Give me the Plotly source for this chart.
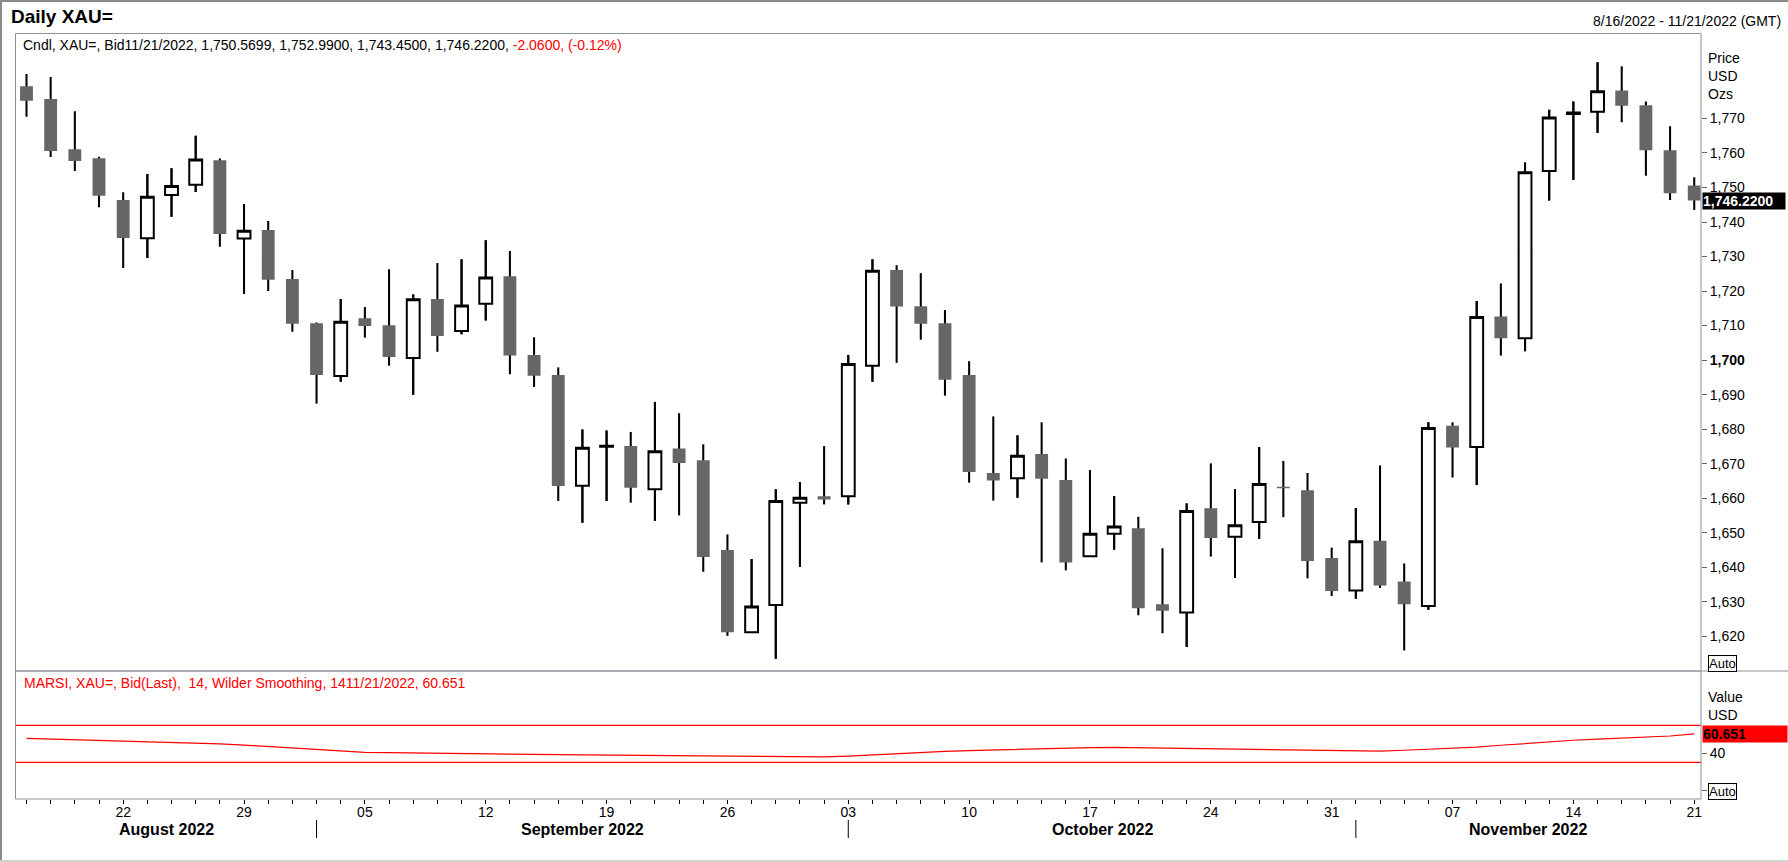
import plotly.graph_objects as go
import pandas as pd

W, H = 1788, 862
FONT = "Liberation Sans, Arial, sans-serif"

# ---------------- data ----------------
dates = [d.strftime("%Y-%m-%d") for d in pd.bdate_range("2022-08-16", "2022-11-21")]

opens = [1779.3, 1775.6, 1761.1, 1758.5, 1746.4, 1735.3, 1747.8, 1750.8, 1757.9, 1735.2,
         1737.7, 1723.5, 1710.7, 1695.4, 1712.1, 1710.1, 1700.6, 1717.7, 1708.4, 1716.3,
         1724.3, 1701.5, 1695.7, 1663.6, 1674.9, 1675.1, 1662.6, 1674.4, 1671.0, 1645.0,
         1621.2, 1629.1, 1658.7, 1660.6, 1660.6, 1698.4, 1726.1, 1715.6, 1710.7, 1695.7,
         1667.3, 1665.8, 1672.8, 1665.3, 1643.2, 1649.7, 1651.3, 1629.3, 1626.9, 1657.1,
         1648.8, 1653.1, 1663.3, 1662.3, 1642.7, 1633.3, 1647.7, 1635.9, 1628.8, 1681.0,
         1674.8, 1712.6, 1706.3, 1754.8, 1771.3, 1771.9, 1778.1, 1773.8, 1760.8, 1750.5699]
highs = [1782.9, 1782.0, 1772.1, 1758.9, 1748.6, 1753.9, 1755.6, 1765.0, 1758.4, 1745.2,
         1740.3, 1726.1, 1710.9, 1717.7, 1715.4, 1726.3, 1719.0, 1728.1, 1729.2, 1734.7,
         1731.6, 1706.6, 1697.9, 1679.9, 1679.6, 1679.2, 1687.9, 1684.6, 1675.6, 1649.5,
         1642.4, 1662.6, 1664.7, 1675.1, 1701.5, 1729.2, 1727.5, 1725.2, 1714.5, 1699.7,
         1683.7, 1678.2, 1682.0, 1671.5, 1668.1, 1660.6, 1654.6, 1645.5, 1658.5, 1670.1,
         1662.6, 1674.8, 1670.8, 1667.3, 1645.7, 1657.1, 1669.5, 1641.1, 1682.0, 1682.0,
         1717.1, 1722.2, 1757.2, 1772.5, 1774.9, 1786.3, 1785.1, 1774.9, 1767.7, 1752.99]
lows = [1770.5, 1758.8, 1754.8, 1744.3, 1726.7, 1729.6, 1741.5, 1748.7, 1732.8, 1719.2,
        1720.0, 1708.2, 1687.4, 1693.7, 1706.5, 1698.4, 1690.0, 1702.4, 1707.5, 1711.5,
        1695.9, 1692.2, 1659.2, 1652.9, 1659.2, 1658.7, 1653.4, 1655.0, 1638.7, 1620.1,
        1621.0, 1613.5, 1640.1, 1658.2, 1658.2, 1693.7, 1699.2, 1705.9, 1689.7, 1664.5,
        1659.3, 1660.1, 1641.4, 1639.1, 1643.1, 1645.1, 1626.1, 1620.9, 1616.9, 1643.1,
        1636.9, 1648.2, 1654.5, 1636.8, 1631.7, 1630.9, 1634.0, 1615.9, 1627.7, 1666.0,
        1663.8, 1701.3, 1702.6, 1746.2, 1752.2, 1765.8, 1768.9, 1753.4, 1746.4, 1743.45]
closes = [1775.1, 1760.6, 1757.7, 1747.6, 1735.4, 1747.3, 1750.4, 1758.1, 1736.5, 1737.5,
          1723.3, 1710.5, 1695.7, 1711.1, 1709.9, 1700.9, 1717.6, 1707.0, 1715.8, 1723.9,
          1701.3, 1695.5, 1663.5, 1674.6, 1675.2, 1663.0, 1673.6, 1670.2, 1643.0, 1621.2,
          1628.6, 1659.2, 1660.1, 1659.6, 1698.9, 1725.9, 1715.5, 1710.5, 1694.3, 1667.6,
          1665.1, 1672.3, 1665.6, 1641.4, 1649.7, 1651.8, 1628.1, 1627.4, 1656.3, 1648.5,
          1652.2, 1664.1, 1662.9, 1641.8, 1633.1, 1647.5, 1634.7, 1629.3, 1680.3, 1674.7,
          1712.5, 1706.3, 1754.4, 1770.3, 1771.7, 1777.9, 1773.7, 1760.8, 1748.3, 1746.22]

rsi = [55.9, 55.2, 54.5, 53.8, 53.0, 52.1, 51.2, 50.5, 49.8, 48.6,
       47.1, 45.3, 43.4, 42.2, 40.8, 40.4, 40.0, 39.5, 39.2, 39.0,
       38.8, 38.6, 38.3, 38.1, 37.8, 37.6, 37.3, 37.1, 36.8, 36.5,
       36.0, 35.6, 35.4, 35.8, 36.6, 38.0, 39.6, 40.9, 41.9, 42.7,
       43.5, 44.2, 45.1, 45.5, 45.9, 46.2, 45.8, 45.5, 44.9, 44.0,
       43.7, 43.4, 43.2, 42.9, 42.5, 42.1, 42.0, 43.0, 43.9, 44.7,
       46.4, 48.4, 50.3, 52.0, 53.8, 55.0, 56.1, 57.2, 58.4, 60.651]
rsi_bands = [70, 30]

price_ticks = list(range(1620, 1780, 10))
price_ticktext = [f"<b>{v:,}</b>" if v == 1700 else f"{v:,}" for v in price_ticks]
rsi_ticks = [0, 40]
rsi_ticktext = ["", "40"]

prev_close = 1748.28
# --------------------------------------

def px(x):
    return x / W

def py(y):
    return 1 - y / H

X0, X1 = 15.5, 1701.0
PT, PB, RB = 33.5, 671.0, 799.0
BORDER = "#8e8e99"

dts = pd.to_datetime(dates)
xlabels = [f"{d.day:02d}" if d.weekday() == 0 else "" for d in dts]
month_starts = [i for i in range(1, len(dts)) if dts[i].month != dts[i - 1].month]

x_lo, x_hi = -0.455, 69.28

fig = go.Figure()

# wicks (drawn under the bodies)
fig.add_trace(go.Bar(
    x=dates, base=lows, y=[h - l for h, l in zip(highs, lows)], width=0.085,
    marker=dict(color="black", line=dict(width=0)),
    xaxis="x", yaxis="y", hoverinfo="skip", showlegend=False))

fig.add_trace(go.Candlestick(
    x=dates, open=opens, high=highs, low=lows, close=closes,
    increasing=dict(line=dict(color="black", width=2), fillcolor="white"),
    decreasing=dict(line=dict(color="#666666", width=0), fillcolor="#666666"),
    whiskerwidth=0, xaxis="x", yaxis="y", showlegend=False, hoverinfo="skip"))

fig.add_trace(go.Scatter(
    x=dates, y=rsi, mode="lines", line=dict(color="#ff0000", width=1.2),
    xaxis="x2", yaxis="y2", showlegend=False, hoverinfo="skip"))

shapes = []
for b in rsi_bands:
    shapes.append(dict(type="line", xref="x2 domain", x0=0, x1=1, yref="y2", y0=b, y1=b,
                       line=dict(color="#ff0000", width=1.3)))
# panel frames
shapes.append(dict(type="rect", xref="paper", yref="paper", x0=px(X0), x1=px(X1),
                   y0=py(PB), y1=py(PT), line=dict(color=BORDER, width=1)))
shapes.append(dict(type="rect", xref="paper", yref="paper", x0=px(X0), x1=px(X1),
                   y0=py(RB), y1=py(PB), line=dict(color=BORDER, width=1)))
shapes.append(dict(type="line", xref="paper", yref="paper", x0=px(X1), x1=1,
                   y0=py(PB), y1=py(PB), line=dict(color=BORDER, width=1)))
# outer frame
shapes.append(dict(type="line", xref="paper", yref="paper", x0=px(1), x1=px(1), y0=0, y1=1,
                   line=dict(color="#8a8a8a", width=2)))
shapes.append(dict(type="line", xref="paper", yref="paper", x0=0, x1=1, y0=py(1), y1=py(1),
                   line=dict(color="#8a8a8a", width=2)))
shapes.append(dict(type="line", xref="paper", yref="paper", x0=0, x1=1, y0=py(861), y1=py(861),
                   line=dict(color="#d0d0d0", width=2)))
# month separators
for m in month_starts:
    shapes.append(dict(type="line", xref="x2", x0=m, x1=m, yref="paper",
                       y0=py(838), y1=py(820), line=dict(color="black", width=1)))

annotations = []
annotations.append(dict(x=px(9), y=py(17), xref="paper", yref="paper", xanchor="left",
                        yanchor="middle", showarrow=False, text="<b>Daily XAU=</b>",
                        font=dict(family=FONT, size=19, color="black")))
annotations.append(dict(x=px(1783), y=py(21), xref="paper", yref="paper", xanchor="right",
                        yanchor="middle", showarrow=False,
                        text=f"{dts[0].month}/{dts[0].day}/{dts[0].year} - {dts[-1].month}/{dts[-1].day}/{dts[-1].year} (GMT)",
                        font=dict(family=FONT, size=14, color="black")))
chg = closes[-1] - prev_close
legend1 = (f"Cndl, XAU=, Bid{dts[-1].month}/{dts[-1].day}/{dts[-1].year}, "
           f"{opens[-1]:,.4f}, {highs[-1]:,.4f}, {lows[-1]:,.4f}, {closes[-1]:,.4f}, "
           f"<span style='color:#ff0000'>{chg:.4f}, ({chg / prev_close * 100:.2f}%)</span>")
annotations.append(dict(x=px(21), y=py(45), xref="paper", yref="paper", xanchor="left",
                        yanchor="middle", showarrow=False, text=legend1,
                        font=dict(family=FONT, size=14, color="black")))
legend2 = (f"MARSI, XAU=, Bid(Last),&nbsp; 14, Wilder Smoothing, 14{dts[-1].month}/{dts[-1].day}/{dts[-1].year}, "
           f"{rsi[-1]:.3f}")
annotations.append(dict(x=px(22), y=py(683), xref="paper", yref="paper", xanchor="left",
                        yanchor="middle", showarrow=False, text=legend2,
                        font=dict(family=FONT, size=14, color="#ff0000")))
for txt, yy in [("Price", 58), ("USD", 76), ("Ozs", 94), ("Value", 697), ("USD", 715)]:
    annotations.append(dict(x=px(1706), y=py(yy), xref="paper", yref="paper", xanchor="left",
                            yanchor="middle", showarrow=False, text=txt,
                            font=dict(family=FONT, size=14, color="black")))
for yy in [663, 791]:
    annotations.append(dict(x=px(1708), y=py(yy), xref="paper", yref="paper", xanchor="left",
                            yanchor="middle", showarrow=False, text="Auto",
                            font=dict(family=FONT, size=13, color="black"),
                            bgcolor="white", bordercolor="black", borderwidth=1, borderpad=0))
annotations.append(dict(x=px(1701.5), y=closes[-1], xref="paper", yref="y", xanchor="left",
                        yanchor="middle", showarrow=False, text=f"<b>{closes[-1]:,.4f}</b>",
                        font=dict(family=FONT, size=14, color="white"), bgcolor="black",
                        width=82, align="left", borderpad=0))
annotations.append(dict(x=px(1701.5), y=rsi[-1], xref="paper", yref="y2", xanchor="left",
                        yanchor="middle", showarrow=False, text=f"<b>{rsi[-1]:.3f}</b>",
                        font=dict(family=FONT, size=14, color="black"), bgcolor="#ff0000",
                        width=84, align="left", borderpad=0))
# month labels
bounds = [x_lo] + month_starts + [x_hi]
for k in range(len(bounds) - 1):
    i0 = 0 if k == 0 else month_starts[k - 1]
    annotations.append(dict(x=(bounds[k] + bounds[k + 1]) / 2, y=py(829), xref="x2", yref="paper",
                            xanchor="center", yanchor="middle", showarrow=False,
                            text=f"<b>{dts[i0].strftime('%B %Y')}</b>",
                            font=dict(family=FONT, size=16, color="black")))

fig.update_layout(
    width=W, height=H, margin=dict(l=0, r=0, t=0, b=0),
    paper_bgcolor="white", plot_bgcolor="white",
    font=dict(family=FONT, size=14, color="black"),
    boxgap=0.24, barmode="overlay", showlegend=False,
    xaxis=dict(domain=[px(X0), px(X1)], type="category", range=[x_lo, x_hi], anchor="y",
               showticklabels=False, ticks="", showgrid=False, zeroline=False, showline=False,
               rangeslider=dict(visible=False), fixedrange=True),
    yaxis=dict(domain=[py(PB), py(PT)], range=[1609.95, 1794.6], side="right", anchor="x",
               tickmode="array", tickvals=price_ticks, ticktext=price_ticktext,
               ticks="outside", ticklen=5, tickcolor="#666666", tickwidth=1,
               tickfont=dict(family=FONT, size=14, color="black"),
               showgrid=False, zeroline=False, showline=False),
    xaxis2=dict(domain=[px(X0), px(X1)], type="category", matches="x", anchor="y2",
                tickmode="array", tickvals=dates, ticktext=xlabels, tickangle=0,
                ticks="outside", ticklen=4, tickcolor="black", tickwidth=1,
                ticklabelstandoff=-4,
                tickfont=dict(family=FONT, size=14, color="black"),
                showgrid=False, zeroline=False, showline=False),
    yaxis2=dict(domain=[py(RB), py(PB)], range=[-9.7, 128.7], side="right", anchor="x2",
                tickmode="array", tickvals=rsi_ticks, ticktext=rsi_ticktext,
                ticks="outside", ticklen=5, tickcolor="#666666", tickwidth=1,
                tickfont=dict(family=FONT, size=14, color="black"),
                showgrid=False, zeroline=False, showline=False),
    shapes=shapes, annotations=annotations,
)

fig.write_html("out.html", config={"displayModeBar": False},
               post_script="document.body.style.margin='0';document.body.style.overflow='hidden';")
